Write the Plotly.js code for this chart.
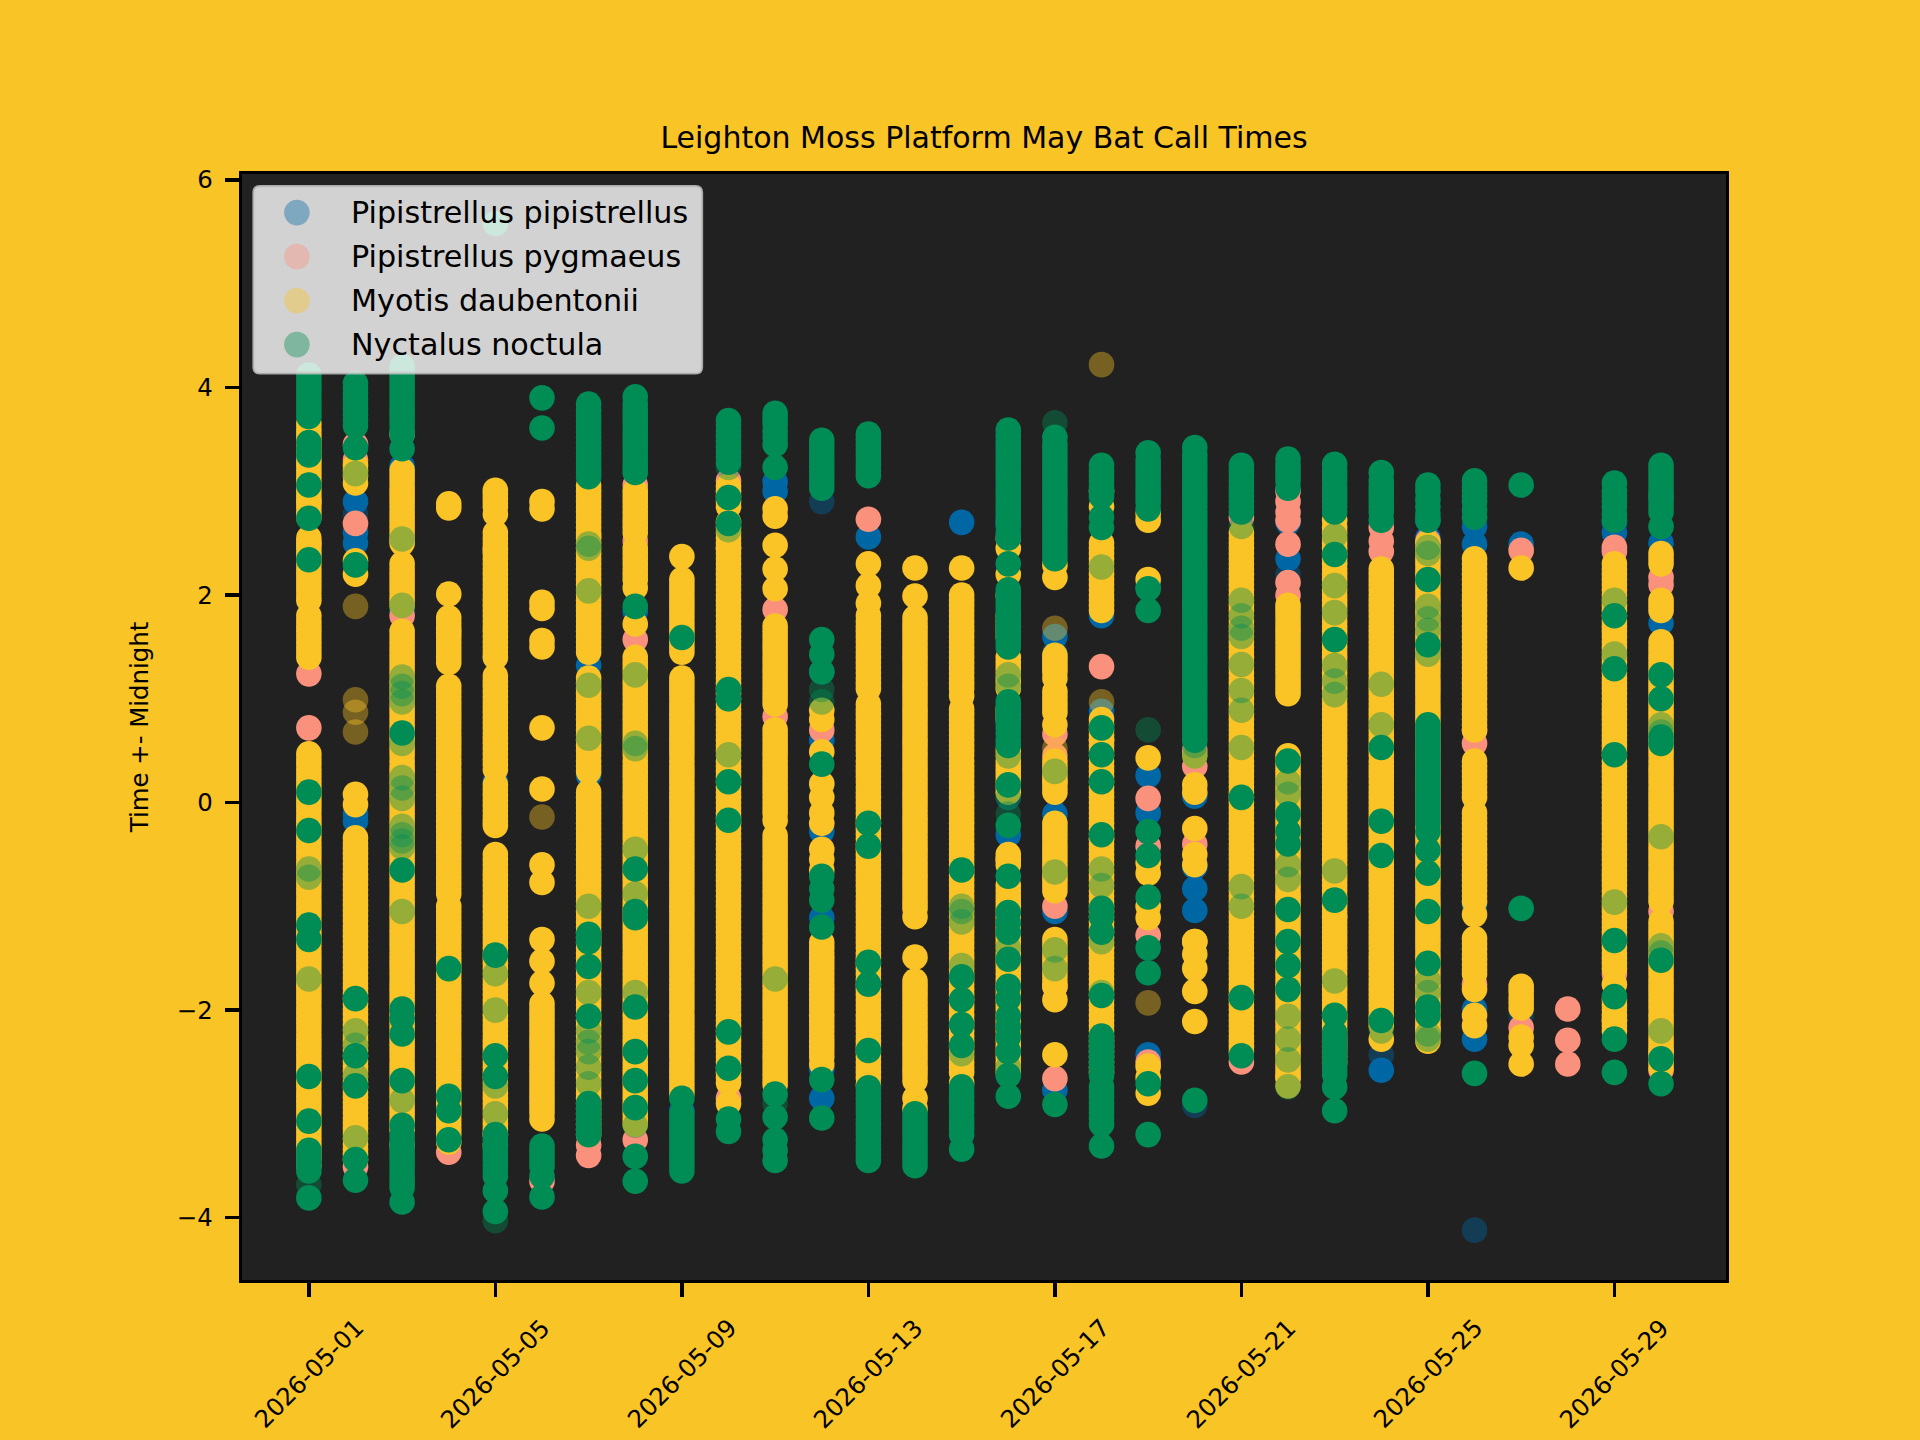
<!DOCTYPE html>
<html>
<head>
<meta charset="utf-8">
<script src="https://cdn.plot.ly/plotly-3.0.1.min.js"></script>
<style>body{margin:0;background:#f9c425}</style>
</head>
<body>
<div id="chart" style="width:1920px;height:1440px"></div>
<script>
// nights of May, one inner list per night
var nights = ['2026-05-01','2026-05-02','2026-05-03','2026-05-04','2026-05-05','2026-05-06','2026-05-07','2026-05-08','2026-05-09','2026-05-10','2026-05-11','2026-05-12','2026-05-13','2026-05-14','2026-05-15','2026-05-16','2026-05-17','2026-05-18','2026-05-19','2026-05-20','2026-05-21','2026-05-22','2026-05-23','2026-05-24','2026-05-25','2026-05-26','2026-05-27','2026-05-28','2026-05-29','2026-05-30'];
var speciesNames = ['Pipistrellus pipistrellus','Pipistrellus pygmaeus','Myotis daubentonii','Nyctalus noctula'];
var tickDates = ['2026-05-01','2026-05-05','2026-05-09','2026-05-13','2026-05-17','2026-05-21','2026-05-25','2026-05-29'];
var yTicks = [-4,-2,0,2,4,6];

// "busy" = several calls at the same minute, reads as solid
var pipBusy = [
 [3.3,2.4],[2.9,2.6,2.5,-.11,-.18],[3.24,1.85],[],[1.4,.2],[],[1.32,.26],[1.84],[-2.97],[1.8],[3.09,3],[.6,.18,-.28,-1.11,-2.57,-2.85,1.26],[2.56],[],[2.7],[2.7,-.31,1.2],[1.6,-.11,-2.77,-1.05],[1.8,.88],[2.08,.26,-.1,-2.43],[.06,-.83,-1.04,-.62],[],[2.35,2.7,.2],[2.3],[-2.58],[2.72,2.55],[2.66,2.49,-1.99,-2.28,-.98],[2.49],[],[2.6,2.7],[2.95,1.73,2.5]
];
var pipSingle = [[],[2.78],[],[],[],[],[],[],[],[],[],[2.9],[],[],[],[.05],[1.45,.95],[],[],[-2.92],[],[2.2],[],[-2.43],[],[-4.12],[-2.05],[],[],[]];
var pygBusy = [
 [1.24,.72,2.5,2.9],[3.45,3.3,2.69,-3.51],[3.55,1.8,2.53],[-3.37],[2.43,-3.2],[-3.65],[2.57,-3.4,-3.3],[3.06,2.52,1.57,-3.25],[],[3.1,2.45,-2.85],[1.86,.83],[.7],[2.73],[],[],[2.55,-.55],[.66,.45,.2,-1,-1.77,-2.66],[1.31,.6,-.35,-1.4],[.04,-.42,-1.28,-2.5],[-.4,.35,.5],[-2.5,2.75],[3,2.9,2.8,2.72,2.49,2.12,2,-.9,-2.65],[-1.1],[2.52,2.65,2.42],[2.52,-2.18],[.57,.7,-1.75],[2.43,-2.17],[-1.99,-2.29,-2.52],[2.46,2.42,-1.65,-2.1],[2.17,2.1,-1.05,-2.58,-2.4]
];
var pygSingle = [[],[],[],[],[],[],[],[],[],[],[],[],[],[],[],[],[],[],[],[],[],[],[],[],[],[],[],[],[],[]];
var daubBusy = [
 [3.65,3.6,3.55,3.5,3.45,3.4,3.35,3.3,3.25,3.2,3.15,3.1,3.05,3,2.95,2.9,2.85,2.8,2.75,2.55,2.5,2.45,2.4,2.35,2.3,2.25,2.2,2.15,2.1,2.05,2,1.95,1.8,1.75,1.7,1.65,1.6,1.55,1.5,1.45,1.4,.47,.42,.37,.32,.27,.22,.17,.12,.07,.02,-.03,-.08,-.13,-.18,-.23,-.28,-.33,-.38,-.43,-.48,-.53,-.58,-.63,-.68,-.73,-.78,-.83,-.88,-.93,-.98,-1.03,-1.08,-1.13,-1.18,-1.23,-1.28,-1.33,-1.38,-1.43,-1.48,-1.53,-1.58,-1.63,-1.68,-1.73,-1.78,-1.83,-1.88,-1.93,-1.98,-2.03,-2.08,-2.13,-2.18,-2.23,-2.28,-2.33,-2.38,-2.43,-2.48,-2.53,-2.58,-2.63,-2.68,-2.73,-2.78,-2.83,-2.88,-2.93,-2.98,-3.03,-3.08,-3.13,-3.18,-3.23,-3.28,-3.33,-3.38,-3.43,-3.5],
 [3.25,3.2,3.15,3.08,2.33,2.2,.08,-.02,-.34,-.39,-.44,-.49,-.54,-.59,-.64,-.69,-.74,-.79,-.84,-.89,-.94,-.99,-1.04,-1.09,-1.14,-1.19,-1.24,-1.29,-1.34,-1.39,-1.44,-1.49,-1.54,-1.59,-1.64,-1.69,-1.74,-1.79,-1.84,-1.89,-1.94,-1.99,-2.04,-2.09,-2.14,-2.19,-2.24,-2.29,-2.34,-2.39,-2.44,-2.49,-2.54,-2.59,-2.64,-2.69,-2.74,-2.79,-2.84,-2.89,-2.94,-2.99,-3.04,-3.09,-3.14,-3.19,-3.24,-3.29,-3.34,-3.39,-3.44],
 [3.2,3.15,3.1,3.05,3,2.95,2.9,2.85,2.8,2.75,2.7,2.65,2.6,2.55,2.5,2.3,2.25,2.2,2.15,2.1,2.05,2,1.95,1.9,1.65,1.6,1.55,1.5,1.45,1.4,1.35,1.3,1.25,1.2,1.15,1.1,1.05,1,.95,.9,.85,.8,.75,.7,.65,.6,.55,.5,.45,.4,.35,.3,.25,.2,.15,.1,.05,0,-.05,-.1,-.15,-.2,-.25,-.3,-.35,-.4,-.45,-.5,-.55,-.6,-.65,-.7,-.75,-.8,-.85,-.9,-.95,-1,-1.05,-1.1,-1.15,-1.2,-1.25,-1.3,-1.35,-1.4,-1.45,-1.5,-1.55,-1.6,-1.65,-1.7,-1.75,-1.8,-1.85,-1.9,-1.95,-2,-2.05,-2.1,-2.15,-2.2,-2.25,-2.3,-2.35,-2.4,-2.45,-2.5,-2.55,-2.6,-2.65,-2.7,-2.75,-2.8,-2.85,-2.9,-2.95,-3,-3.05,-3.1,-3.15,-3.3],
 [2.88,2.84,2.01,1.78,1.73,1.68,1.64,1.6,1.55,1.5,1.45,1.4,1.35,1.12,1.07,1.02,.97,.92,.87,.82,.77,.72,.67,.62,.57,.52,.47,.42,.37,.32,.27,.22,.17,.12,.07,.02,-.03,-.08,-.13,-.18,-.23,-.28,-.33,-.38,-.43,-.48,-.53,-.58,-.63,-.68,-.73,-.78,-.83,-.88,-1,-1.05,-1.1,-1.15,-1.2,-1.25,-1.3,-1.35,-1.4,-1.45,-1.5,-1.55,-1.6,-1.65,-1.7,-1.75,-1.8,-1.85,-1.9,-1.95,-2,-2.05,-2.1,-2.15,-2.2,-2.25,-2.3,-2.35,-2.4,-2.45,-2.5,-2.55,-2.6,-2.65,-2.7,-2.75,-2.8,-2.85,-2.9,-2.95,-3,-3.05,-3.1,-3.15,-3.2,-3.27],
 [3.01,2.97,2.93,2.89,2.85,2.78,2.6,2.55,2.5,2.45,2.4,2.35,2.3,2.25,2.2,2.15,2.1,2.05,2,1.95,1.9,1.85,1.8,1.75,1.7,1.65,1.6,1.55,1.5,1.45,1.4,1.22,1.17,1.12,1.07,1.02,.97,.92,.87,.82,.77,.72,.67,.62,.57,.52,.47,.42,.37,.32,.17,.12,.07,.02,-.03,-.08,-.13,-.18,-.22,-.5,-.55,-.6,-.65,-.7,-.75,-.8,-.85,-.9,-.95,-1,-1.05,-1.1,-1.15,-1.2,-1.25,-1.3,-1.35,-1.4,-1.45,-1.5,-1.55,-1.6,-1.65,-1.7,-1.75,-1.8,-1.85,-1.9,-1.95,-2,-2.05,-2.1,-2.15,-2.2,-2.25,-2.3,-2.35,-2.4,-2.45,-2.5,-2.55,-2.6,-2.65,-2.7,-2.75,-2.8,-2.85,-2.9,-2.95,-3,-3.05,-3.1,-3.15,-3.2,-3.3],
 [2.9,2.83,1.93,1.87,1.56,1.5,.72,.13,-.6,-.77,-1.32,-1.53,-1.74,-1.94,-1.99,-2.04,-2.09,-2.14,-2.19,-2.24,-2.29,-2.34,-2.39,-2.44,-2.49,-2.54,-2.59,-2.64,-2.69,-2.74,-2.79,-2.84,-2.89,-2.94,-2.99,-3.05],
 [3.05,3,2.95,2.9,2.85,2.8,2.75,2.7,2.65,2.6,2.55,2.5,2.45,2.4,2.35,2.3,2.25,2.2,2.15,2.1,2.05,2,1.95,1.9,1.85,1.8,1.75,1.7,1.65,1.6,1.55,1.5,1.45,1.2,1.15,1.1,1.05,1,.95,.9,.85,.8,.75,.7,.65,.6,.55,.5,.45,.4,.35,.3,.1,.05,0,-.05,-.1,-.15,-.2,-.25,-.3,-.35,-.4,-.45,-.5,-.55,-.6,-.65,-.7,-.75,-.8,-.85,-.9,-.95,-1,-1.05,-1.1,-1.15,-1.2,-1.25,-1.3,-1.35,-1.4,-1.45,-1.5,-1.55,-1.6,-1.65,-1.7,-1.75,-1.8,-1.85,-1.9,-1.95,-2,-2.05,-2.1,-2.15,-2.2,-2.25,-2.3,-2.35,-2.4,-2.45,-2.5,-2.55,-2.6,-2.65,-2.7,-2.75,-2.8,-2.85,-2.9,-2.95,-3,-3.05,-3.1,-3.15,-3.2],
 [3,2.95,2.9,2.85,2.8,2.75,2.7,2.65,2.6,2.45,2.4,2.35,2.3,2.25,2.2,2.15,2.07,1.72,1.4,1.35,1.3,1.25,1.2,1.15,1.1,1.05,1,.95,.9,.85,.8,.75,.7,.65,.6,.55,.5,.45,.4,.35,.3,.25,.2,.15,.1,.05,0,-.05,-.1,-.15,-.2,-.25,-.3,-.35,-.4,-.45,-.5,-.55,-.6,-.65,-.7,-.75,-.8,-.85,-.9,-.95,-1,-1.05,-1.1,-1.15,-1.2,-1.25,-1.3,-1.35,-1.4,-1.45,-1.5,-1.55,-1.6,-1.65,-1.7,-1.75,-1.8,-1.85,-1.9,-1.95,-2,-2.05,-2.1,-2.15,-2.2,-2.25,-2.3,-2.35,-2.4,-2.45,-2.5,-2.55,-2.6,-2.65,-2.7,-2.75,-2.8,-2.85,-2.9,-2.95,-3,-3.05,-3.1],
 [2.37,2.15,2.1,2.05,2,1.95,1.9,1.85,1.8,1.75,1.7,1.65,1.6,1.55,1.5,1.45,1.2,1.15,1.1,1.05,1,.95,.9,.85,.8,.75,.7,.65,.6,.55,.5,.45,.4,.35,.3,.25,.2,.15,.1,.05,0,-.05,-.1,-.15,-.2,-.25,-.3,-.35,-.4,-.45,-.5,-.55,-.6,-.65,-.7,-.75,-.8,-.85,-.9,-.95,-1,-1.05,-1.1,-1.15,-1.2,-1.25,-1.3,-1.35,-1.4,-1.45,-1.5,-1.55,-1.6,-1.65,-1.7,-1.75,-1.8,-1.85,-1.9,-1.95,-2,-2.05,-2.1,-2.15,-2.2,-2.25,-2.3,-2.35,-2.4,-2.45,-2.5,-2.55,-2.6,-2.65,-2.7,-2.75,-2.8],
 [3.05,3,2.95,2.9,2.85,2.7,2.65,2.6,2.55,2.5,2.45,2.4,2.35,2.3,2.25,2.2,2.15,2.1,2.05,2,1.95,1.9,1.85,1.8,1.75,1.7,1.65,1.6,1.55,1.5,1.45,1.4,1.35,1.3,1.25,1.2,1.15,1.1,1.05,1,.95,.9,.85,.8,.75,.7,.65,.6,.55,.5,.45,.4,.35,.3,.25,.2,.15,.1,.05,0,-.05,-.1,-.15,-.2,-.25,-.3,-.35,-.4,-.45,-.5,-.55,-.6,-.65,-.7,-.75,-.8,-.85,-.9,-.95,-1,-1.05,-1.1,-1.15,-1.2,-1.25,-1.3,-1.35,-1.4,-1.45,-1.5,-1.55,-1.6,-1.65,-1.7,-1.75,-1.8,-1.85,-1.9,-1.95,-2,-2.05,-2.1,-2.15,-2.2,-2.25,-2.3,-2.35,-2.4,-2.45,-2.5,-2.55,-2.6,-2.65,-2.7,-2.9],
 [2.83,2.76,2.48,2.25,2.06,1.7,1.65,1.6,1.55,1.5,1.45,1.4,1.35,1.3,1.25,1.2,1.15,1.1,1.05,1,.95,.7,.65,.6,.55,.5,.45,.4,.35,.3,.25,.2,.15,.1,.05,0,-.05,-.1,-.17,-.32,-.37,-.42,-.47,-.52,-.57,-.62,-.67,-.72,-.77,-.82,-.87,-.92,-.97,-1.02,-1.07,-1.12,-1.17,-1.22,-1.27,-1.32,-1.37,-1.42,-1.47,-1.52,-1.57,-1.62,-1.67,-1.72,-1.77,-1.82,-1.87,-1.92,-1.97,-2.02,-2.07,-2.12,-2.17,-2.22,-2.27,-2.32,-2.37,-2.42,-2.47,-2.52,-2.57,-2.62,-2.67,-2.72],
 [.89,.8,.49,.18,.05,-.1,-.2,-.45,-.55,-.65,-1.35,-1.4,-1.45,-1.5,-1.55,-1.6,-1.65,-1.7,-1.75,-1.8,-1.85,-1.9,-1.95,-2,-2.05,-2.1,-2.15,-2.2,-2.25,-2.3,-2.35,-2.4,-2.45,-2.52],
 [2.3,2.09,1.92,1.8,1.75,1.7,1.65,1.6,1.55,1.5,1.45,1.4,1.35,1.3,1.25,1.2,1.15,1.1,.95,.9,.85,.8,.75,.7,.65,.6,.55,.5,.45,.4,.35,.3,.25,.2,.15,.1,.05,0,-.05,-.1,-.15,-.2,-.25,-.3,-.35,-.4,-.45,-.5,-.55,-.6,-.65,-.7,-.75,-.8,-.85,-.9,-.95,-1,-1.05,-1.1,-1.15,-1.2,-1.25,-1.3,-1.35,-1.4,-1.45,-1.5,-1.55,-1.6,-1.65,-1.7,-1.75,-1.8,-1.85,-1.9,-1.95,-2,-2.05,-2.1,-2.15,-2.2,-2.25,-2.3,-2.35,-2.4,-2.45,-2.5,-2.55,-2.6,-2.65,-2.72],
 [2.26,1.99,1.78,1.73,1.68,1.63,1.58,1.53,1.48,1.43,1.38,1.33,1.28,1.23,1.18,1.13,1.08,1.03,.98,.93,.88,.83,.78,.73,.68,.63,.58,.53,.48,.43,.38,.33,.28,.23,.18,.13,.08,.03,-.02,-.07,-.12,-.17,-.22,-.27,-.32,-.37,-.42,-.47,-.52,-.57,-.62,-.67,-.72,-.77,-.82,-.87,-.92,-.97,-1.02,-1.1,-1.49,-1.72,-1.77,-1.82,-1.87,-1.92,-1.97,-2.02,-2.07,-2.12,-2.17,-2.22,-2.27,-2.32,-2.37,-2.42,-2.47,-2.52,-2.57,-2.62,-2.68,-2.85,-2.95],
 [2.26,2,1.95,1.9,1.85,1.8,1.75,1.7,1.65,1.6,1.55,1.5,1.45,1.4,1.35,1.3,1.25,1.2,1.15,1.1,1.03,.9,.85,.8,.75,.7,.65,.6,.55,.5,.45,.4,.35,.3,.25,.2,.15,.1,.05,0,-.05,-.1,-.15,-.2,-.25,-.3,-.35,-.4,-.45,-.5,-.55,-.6,-.65,-.7,-.75,-.8,-.85,-.9,-.95,-1,-1.05,-1.1,-1.15,-1.2,-1.25,-1.3,-1.35,-1.4,-1.45,-1.5,-1.55,-1.6,-1.65,-1.7,-1.75,-1.8,-1.85,-1.9,-1.95,-2,-2.05,-2.1,-2.15,-2.2,-2.25,-2.3,-2.35,-2.4,-2.45,-2.5,-2.55,-2.6,-2.7],
 [2.45,2.2,2,1.8,1.75,1.7,1.65,1.6,1.4,1.35,1.3,1.25,1.2,1.15,1.1,.9,.85,.8,.5,.45,.4,.35,.3,.25,.2,.15,.1,-.5,-.55,-.6,-.8,-.85,-.9,-.95,-1,-1.05,-1.1,-1.15,-1.2,-1.25,-1.3,-1.35,-1.4,-1.45,-1.5,-1.55,-1.6,-1.65,-1.7,-1.75,-1.8,-1.85,-1.9,-1.95,-2,-2.05,-2.1,-2.15,-2.2,-2.25,-2.3,-2.35,-2.4,-2.45,-2.5,-2.55,-2.6],
 [2.29,2.17,1.42,1.38,1.34,1.3,1.26,1.2,1.07,1.02,.97,.92,.87,.75,.4,.35,.3,.25,.2,.15,.1,-.2,-.25,-.3,-.35,-.4,-.45,-.5,-.55,-.6,-.65,-.7,-.75,-.8,-.85,-1.32,-1.37,-1.42,-1.47,-1.52,-1.57,-1.62,-1.67,-1.72,-1.77,-1.9,-2.43],
 [3,2.85,2.5,2.45,2.4,2.35,2.3,2.25,2.2,2.15,2.1,2.05,2,1.95,1.9,1.85,.8,.75,.7,.65,.6,.55,.5,.45,.4,.35,.3,.25,.2,.15,.1,.05,0,-.05,-.1,-.15,-.2,-.25,-.3,-.35,-.4,-.45,-.5,-.55,-.6,-.65,-.7,-.75,-.8,-.85,-.9,-.95,-1,-1.05,-1.1,-1.15,-1.2,-1.25,-1.3,-1.35,-1.4,-1.45,-1.5,-1.55,-1.6,-1.65,-1.7,-1.75,-1.8,-1.85,-1.9,-1.95,-2,-2.05,-2.1,-2.15,-2.2,-2.25,-2.3,-2.35,-2.4,-2.45,-2.5,-2.55,-2.6],
 [2.78,2.72,2.15,.43,-.68,-.58,-1.11,-1,-2.54,-2.65,-2.8],
 [.45,.17,.1,-.25,-.6,-.5,-1.34,-1.46,-1.6,-1.34,-1.82,-2.11],
 [2.6,2.55,2.5,2.45,2.4,2.35,2.3,2.25,2.2,2.15,2.1,2.05,2,1.95,1.9,1.85,1.8,1.75,1.7,1.65,1.6,1.55,1.5,1.45,1.4,1.35,1.3,1.25,1.2,1.15,1.1,1.05,1,.95,.9,.85,.8,.75,.7,.65,.6,.55,.5,.45,.4,.35,.3,.25,.2,.15,.1,.05,0,-.05,-.1,-.15,-.2,-.25,-.3,-.35,-.4,-.45,-.5,-.55,-.6,-.65,-.7,-.75,-.8,-.85,-.9,-.95,-1,-1.05,-1.1,-1.15,-1.2,-1.25,-1.3,-1.35,-1.4,-1.45,-1.5,-1.55,-1.6,-1.65,-1.7,-1.75,-1.8,-1.85,-1.9,-1.95,-2,-2.05,-2.1,-2.15,-2.2,-2.25,-2.3,-2.35,-2.4],
 [1.9,1.85,1.8,1.75,1.7,1.65,1.6,1.55,1.5,1.45,1.4,1.35,1.3,1.25,1.2,1.15,1.1,1.05,.45,.4,.35,.3,.25,.2,.15,.1,.05,0,-.05,-.1,-.15,-.2,-.25,-.3,-.35,-.4,-.45,-.5,-.55,-.6,-.65,-.7,-.75,-.8,-.85,-.9,-.95,-1,-1.05,-1.1,-1.15,-1.2,-1.25,-1.3,-1.35,-1.4,-1.45,-1.5,-1.55,-1.6,-1.65,-1.7,-1.75,-1.8,-1.85,-1.9,-1.95,-2,-2.05,-2.1,-2.15,-2.2,-2.25,-2.3,-2.35,-2.4,-2.45,-2.5,-2.55,-2.6,-2.65,-2.73],
 [2.72,2.65,2.6,2.55,2.5,2.45,2.4,2.35,2.3,2.25,2.2,2.15,2.1,2.05,2,1.95,1.9,1.85,1.8,1.75,1.7,1.65,1.6,1.55,1.5,1.45,1.4,1.35,1.3,1.25,1.2,1.15,1.1,1.05,1,.95,.9,.85,.8,.75,.7,.65,.6,.55,.5,.45,.4,.35,.3,.25,.2,.15,.1,.05,0,-.05,-.1,-.15,-.2,-.25,-.3,-.35,-.4,-.45,-.5,-.55,-.6,-.65,-.7,-.75,-.8,-.85,-.9,-.95,-1,-1.05,-1.1,-1.15,-1.2,-1.25,-1.3,-1.35,-1.4,-1.45,-1.5,-1.55,-1.6,-1.65,-1.7,-1.75,-1.8,-1.85,-1.9,-1.95,-2,-2.05,-2.1,-2.15,-2.2,-2.25,-2.3,-2.35,-2.4,-2.45,-2.5],
 [2.25,2.2,2.15,2.1,2.05,2,1.95,1.9,1.85,1.8,1.75,1.7,1.65,1.6,1.55,1.5,1.45,1.4,1.35,1.3,1.25,1.2,1.15,1.1,1.05,1,.95,.9,.85,.8,.75,.7,.65,.6,.55,.5,.45,.4,.35,.3,.25,.2,.15,.1,.05,0,-.05,-.1,-.15,-.2,-.25,-.3,-.35,-.4,-.45,-.5,-.55,-.6,-.65,-.7,-.75,-.8,-.85,-.9,-.95,-1,-1.05,-1.1,-1.15,-1.2,-1.25,-1.3,-1.35,-1.4,-1.45,-1.5,-1.55,-1.6,-1.65,-1.7,-1.75,-1.8,-1.85,-1.9,-1.95,-2,-2.05,-2.1,-2.15,-2.28],
 [2.5,2.45,2.4,2.35,2.3,2.25,2.2,2.15,2.1,2.05,2,1.95,1.9,1.85,1.8,1.75,1.7,1.65,1.6,1.55,1.5,1.45,1.4,1.35,1.3,1.25,1.2,1.15,1.1,1.05,1,.95,.9,.85,.8,.75,.7,.65,.6,.55,.5,.45,.4,.35,.3,.25,.2,.15,.1,.05,0,-.05,-.1,-.15,-.2,-.25,-.3,-.35,-.4,-.45,-.5,-.55,-.6,-.65,-.7,-.75,-.8,-.85,-.9,-.95,-1,-1.05,-1.1,-1.15,-1.2,-1.25,-1.3,-1.35,-1.4,-1.45,-1.5,-1.55,-1.6,-1.65,-1.7,-1.75,-1.8,-1.85,-1.9,-1.95,-2,-2.05,-2.1,-2.15,-2.2,-2.25,-2.3],
 [2.35,2.3,2.25,2.2,2.15,2.1,2.05,2,1.95,1.9,1.85,1.8,1.75,1.7,1.65,1.6,1.55,1.5,1.45,1.4,1.35,1.3,1.25,1.2,1.15,1.1,1.05,1,.95,.9,.85,.8,.75,.7,.4,.35,.3,.25,.2,.15,.1,.05,-.1,-.15,-.2,-.25,-.3,-.35,-.4,-.45,-.5,-.55,-.6,-.65,-.7,-.75,-.8,-.85,-.9,-.95,-1.08,-1.31,-1.36,-1.41,-1.46,-1.51,-1.56,-1.61,-1.65,-1.8,-2.05,-2.15],
 [2.26,-1.77,-1.82,-1.88,-1.93,-1.98,-2.26,-2.34,-2.52],
 [],
 [2.3,2.25,2.2,2.15,2.1,2.05,2,1.95,1.9,1.85,1.8,1.75,1.7,1.65,1.6,1.55,1.5,1.45,1.4,1.35,1.3,1.25,1.2,1.15,1.1,1.05,1,.95,.9,.85,.8,.75,.7,.65,.6,.55,.5,.45,.4,.35,.3,.25,.2,.15,.1,.05,0,-.05,-.1,-.15,-.2,-.25,-.3,-.35,-.4,-.45,-.5,-.55,-.6,-.65,-.7,-.75,-.8,-.85,-.9,-.95,-1,-1.05,-1.1,-1.15,-1.2,-1.25,-1.3,-1.35,-1.4,-1.45,-1.5,-1.55,-1.6,-1.75,-1.9,-1.95,-2,-2.05,-2.1,-2.15,-2.2],
 [2.4,2.35,2.3,1.95,1.9,1.85,1.55,1.5,1.45,1.4,1.35,1.3,1.25,1.2,1.15,1.1,1.05,1,.95,.9,.85,.8,.75,.7,.65,.6,.55,.5,.45,.4,.35,.3,.25,.2,.15,.1,.05,0,-.05,-.1,-.15,-.2,-.25,-.3,-.35,-.4,-.45,-.5,-.55,-.6,-.65,-.7,-.75,-.8,-.85,-.9,-.95,-1.15,-1.2,-1.25,-1.3,-1.35,-1.4,-1.45,-1.5,-1.55,-1.6,-1.65,-1.7,-1.75,-1.8,-1.85,-1.9,-1.95,-2,-2.05,-2.1,-2.15,-2.2,-2.25,-2.3,-2.35,-2.4,-2.45,-2.5,-2.55]
];
var daubSingle = [[],[1.89,.99,.87,.68],[],[],[],[-.14],[],[],[],[],[],[],[],[],[],[],[1.68,.52],[4.22,.97],[-1.93],[],[],[],[],[],[],[],[],[],[],[]];
var noctBusy = [
 [4.12,4.07,4.02,3.97,3.92,3.87,3.82,3.77,3.72,3.47,3.41,3.35,3.06,2.74,2.34,.1,-.27,-1.18,-1.32,-2.64,-3.07,-3.35,-3.4,-3.45,-3.5,-3.55,-3.81],
 [4.04,3.99,3.94,3.89,3.84,3.79,3.74,3.68,3.63,3.42,2.29,-1.89,-2.44,-2.73,-3.44,-3.64],
 [4.2,4.15,4.1,4.05,4,3.95,3.9,3.85,3.8,3.75,3.7,3.65,3.6,3.55,3.41,.67,-.65,-1.99,-2.08,-2.23,-2.68,-3.11,-3.21,-3.26,-3.31,-3.36,-3.41,-3.46,-3.51,-3.56,-3.61,-3.66,-3.71,-3.85],
 [-1.6,-2.83,-2.97,-3.25],
 [5.58,-1.47,-2.44,-2.64,-3.2,-3.25,-3.3,-3.35,-3.4,-3.45,-3.5,-3.55,-3.6,-3.74,-3.94],
 [3.9,3.61,-3.31,-3.36,-3.41,-3.46,-3.51,-3.6,-3.8],
 [3.84,3.78,3.72,3.67,3.62,3.57,3.52,3.47,3.42,3.37,3.32,3.27,3.22,3.18,3.14,-1.27,-1.34,-1.58,-2.06,-2.9,-2.95,-3,-3.05,-3.1,-3.15,-3.2],
 [3.91,3.84,3.78,3.73,3.68,3.63,3.58,3.53,3.48,3.43,3.38,3.33,3.28,3.23,3.18,1.89,-.64,-1.05,-1.11,-1.97,-2.4,-2.68,-2.94,-3.41,-3.65],
 [1.59,-2.85,-3,-3.05,-3.1,-3.15,-3.2,-3.25,-3.3,-3.35,-3.4,-3.45,-3.5,-3.55],
 [3.68,3.63,3.58,3.53,3.48,3.43,3.38,3.33,3.28,2.94,2.69,1.09,1,.2,-.17,-2.21,-2.56,-3.05,-3.17],
 [3.75,3.7,3.65,3.58,3.52,3.45,3.23,-2.81,-3.03,-3.25,-3.35,-3.45],
 [3.49,3.44,3.39,3.34,3.29,3.24,3.19,3.14,3.09,3.03,1.57,1.43,1.26,.37,-.71,-.83,-.94,-1.2,-2.67,-3.04],
 [3.55,3.5,3.45,3.4,3.35,3.3,3.25,3.2,3.15,-.2,-.42,-1.54,-1.75,-2.39,-2.75,-2.8,-2.85,-2.9,-2.95,-3,-3.05,-3.1,-3.15,-3.2,-3.25,-3.3,-3.35,-3.4,-3.45],
 [-3,-3.05,-3.1,-3.15,-3.2,-3.25,-3.3,-3.35,-3.4,-3.45,-3.5],
 [-.65,-1.68,-1.9,-2.14,-2.34,-2.74,-2.79,-2.84,-2.89,-2.94,-2.99,-3.04,-3.09,-3.14,-3.2,-3.34],
 [3.59,3.53,3.47,3.42,3.37,3.32,3.27,3.22,3.17,3.12,3.07,3.02,2.97,2.92,2.87,2.82,2.77,2.72,2.67,2.6,2.55,2.3,2.05,2,1.95,1.9,1.85,1.8,1.75,1.7,1.65,1.6,1.55,1.5,.97,.92,.87,.82,.77,.72,.67,.6,.55,.17,-.22,-.71,-1.06,-1.16,-1.25,-1.51,-1.77,-1.89,-2.06,-2.16,-2.26,-2.4,-2.63,-2.83],
 [3.52,3.45,3.4,3.35,3.3,3.25,3.2,3.15,3.1,3.05,3,2.95,2.9,2.85,2.8,2.75,2.7,2.65,2.6,2.55,2.5,2.45,2.4,2.35,-2.91],
 [3.25,3.2,3.15,3.1,3.05,3,2.95,2.75,2.65,.72,.46,.2,-.31,-1.02,-1.1,-1.25,-1.86,-2.25,-2.3,-2.35,-2.4,-2.45,-2.5,-2.55,-2.63,-2.74,-2.79,-2.84,-2.89,-2.94,-2.99,-3.04,-3.1,-3.31],
 [3.37,3.3,3.25,3.2,3.15,3.1,3.05,3,2.95,2.9,2.83,2.06,1.85,-.28,-.51,-.91,-1.4,-1.64,-2.71,-3.2],
 [3.42,3.35,3.3,3.25,3.2,3.15,3.1,3.05,3,2.95,2.9,2.85,2.8,2.75,2.7,2.65,2.6,2.55,2.5,2.45,2.4,2.35,2.3,2.25,2.2,2.15,2.1,2.05,2,1.95,1.9,1.85,1.8,1.75,1.7,1.65,1.6,1.55,1.5,1.45,1.4,1.35,1.3,1.25,1.2,1.15,1.1,1.05,1,.95,.9,.85,.8,.75,.7,.65,.6,-2.87],
 [3.25,3.2,3.15,3.1,3.05,3,2.95,2.9,2.85,2.8,.05,-1.88,-2.44],
 [3.31,3.25,3.2,3.15,3.1,3.03,.4,-.11,-.28,-.4,-1.03,-1.34,-1.57,-1.8],
 [3.26,3.2,3.15,3.1,3.05,3,2.95,2.9,2.85,2.8,2.39,1.57,-.94,-2.05,-2.22,-2.27,-2.32,-2.37,-2.42,-2.47,-2.52,-2.57,-2.62,-2.74,-2.97],
 [3.18,3.1,3.05,3,2.95,2.9,2.85,2.8,2.72,.53,-.18,-.51,-2.1],
 [3.06,3,2.92,2.85,2.78,2.72,2.15,1.52,.75,.7,.65,.6,.55,.5,.45,.4,.35,.3,.25,.2,.15,.1,.05,0,-.05,-.1,-.15,-.2,-.28,-.46,-.68,-1.05,-1.55,-1.97,-2.05],
 [3.1,3.05,3,2.95,2.9,2.82,2.75,-2.61],
 [3.06,-1.02],
 [],
 [3.08,3,2.95,2.9,2.85,2.78,2.72,1.8,1.29,.46,-1.33,-1.87,-2.28,-2.6],
 [3.25,3.2,3.15,3.1,3.05,3,2.95,2.9,2.85,2.8,2.66,1.23,1,.63,.57,-1.52,-2.47,-2.71]
];
var noctSingle = [
 [-.64,-.72,-1.7,-3.68],[3.17,-2.2,-2.34,-2.63,-3.23],[2.54,1.9,1.21,1.12,1.05,.97,.57,.24,.14,.04,-.23,-.31,-.37,-.43,-1.05,-2.87],[],[-1.65,-2,-2.73,-3,-4.03],[],[2.49,2.45,2.04,1.13,.62,-1,-1.83,-2.2,-2.31,-2.4,-2.55,-2.71],[1.23,.57,.52,-.45,-.88,-1.83,-3.11],[],[3.23,2.63,1,.46],[-1.7,-2.9],[1.09,.97],[],[],[-1,-1.05,-1.15,-1.57,-2.42],[1.23,1.12,.45,.05,-.11,-1.4,-2.55],[3.66,.3,-.67,-1.42,-1.6],[2.27,-.64,-.8,-1.34,-1.83],[.7],[.55,.45],[2.66,1.95,1.8,1.68,1.6,1.33,1.08,.89,.53,-.81,-1],[.2,.08,-.6,-.74,-2.06,-2.28,-2.48,-2.74],[2.57,2.09,1.83,1.32,1.17,1.04,-.66,-1.72],[1.14,.75,-2.2],[2.46,2.4,1.89,1.77,1.66,1.43,-1.71,-1.83,-2.23,-2.28],[],[],[],[1.95,1.43,-.96],[.75,.68,-.33,-1.45,-1.38,-2.2]
];

var busyLists = [pipBusy, pygBusy, daubBusy, noctBusy];
var singleLists = [pipSingle, pygSingle, daubSingle, noctSingle];
var colors = ['#0067a5','#fa917c','#fac326','#008c55'];

function flatten(days) {
    var x = [], y = [];
    days.forEach(function (vals, i) {
        vals.forEach(function (v) { x.push(nights[i]); y.push(v); });
    });
    return {x: x, y: y};
}

var data = [];
speciesNames.forEach(function (name, s) {
    var busy = flatten(busyLists[s]);
    var single = flatten(singleLists[s]);
    data.push({type: 'scatter', mode: 'markers', name: name, x: busy.x, y: busy.y,
        marker: {color: colors[s], size: 25.6, line: {width: 0}}, showlegend: false, hoverinfo: 'skip'});
    data.push({type: 'scatter', mode: 'markers', name: name, x: single.x, y: single.y,
        marker: {color: colors[s], size: 25.6, opacity: 0.4, line: {width: 0}}, showlegend: false, hoverinfo: 'skip'});
});

// inner edge of the axes box in page pixels (the spine is drawn outside it)
var L = 241.6, R = 1726.4, T = 174.4, B = 1280.4;
function px(v) { return (v - L) / (R - L); }
function py(v) { return (B - v) / (B - T); }

var font = 'DejaVu Sans, sans-serif';
var shapes = [], annotations = [];

// legend box over the points
var bx0 = px(253.5), bx1 = px(701.5), by0 = py(187), by1 = py(373.5), rx = 6 / (R - L), ry = 6 / (B - T);
shapes.push({type: 'path', xref: 'paper', yref: 'paper', layer: 'above',
    path: 'M' + (bx0 + rx) + ',' + by0 + ' L' + (bx1 - rx) + ',' + by0 + ' Q' + bx1 + ',' + by0 + ' ' + bx1 + ',' + (by0 - ry) +
        ' L' + bx1 + ',' + (by1 + ry) + ' Q' + bx1 + ',' + by1 + ' ' + (bx1 - rx) + ',' + by1 +
        ' L' + (bx0 + rx) + ',' + by1 + ' Q' + bx0 + ',' + by1 + ' ' + bx0 + ',' + (by1 + ry) +
        ' L' + bx0 + ',' + (by0 - ry) + ' Q' + bx0 + ',' + by0 + ' ' + (bx0 + rx) + ',' + by0 + ' Z',
    fillcolor: 'rgba(255,255,255,0.8)', line: {color: 'rgba(204,204,204,0.8)', width: 3}});
speciesNames.forEach(function (name, s) {
    var cy = 213 + s * 44;
    shapes.push({type: 'circle', xref: 'paper', yref: 'paper', layer: 'above',
        x0: px(296.5 - 12.8), x1: px(296.5 + 12.8), y0: py(cy + 12.8), y1: py(cy - 12.8),
        fillcolor: colors[s], opacity: 0.4, line: {width: 0}});
    annotations.push({xref: 'paper', yref: 'paper', x: px(349), y: py(cy), xanchor: 'left', yanchor: 'middle',
        text: name, showarrow: false, font: {family: font, size: 30.2, color: '#000'}});
});

// date labels sit centred under the tick, rotated
tickDates.forEach(function (d) {
    annotations.push({xref: 'x', yref: 'paper', x: d, y: 0, xanchor: 'center', yanchor: 'top', yshift: -30,
        text: d, textangle: -45, showarrow: false, font: {family: font, size: 24.4, color: '#000'}});
});

var layout = {
    width: 1920, height: 1440,
    margin: {l: L, r: 1920 - R, t: T, b: 1440 - B, autoexpand: false},
    paper_bgcolor: '#f9c425', plot_bgcolor: '#212121',
    showlegend: false,
    title: {text: 'Leighton Moss Platform May Bat Call Times', x: 984 / 1920, xanchor: 'center', y: 1 - 137 / 1440, yanchor: 'middle',
        font: {family: font, size: 30, color: '#000'}},
    xaxis: {type: 'date', range: ['2026-04-29 13:35', '2026-05-31 09:26'], tickmode: 'array', tickvals: tickDates, ticktext: tickDates,
        showticklabels: false, ticks: 'outside', ticklen: 14, tickwidth: 3.3, tickcolor: '#000',
        showline: true, mirror: true, linecolor: '#000', linewidth: 3.3, showgrid: false, zeroline: false},
    yaxis: {range: [-4.601, 6.057], tickmode: 'array', tickvals: yTicks,
        ticks: 'outside', ticklen: 14, tickwidth: 3.3, tickcolor: '#000',
        ticklabelstandoff: 7,
        tickfont: {family: font, size: 24.4, color: '#000'},
        showline: true, mirror: true, linecolor: '#000', linewidth: 3.3, showgrid: false, zeroline: false,
        title: {text: 'Time +- Midnight', standoff: 22, font: {family: font, size: 24.4, color: '#000'}}},
    shapes: shapes,
    annotations: annotations
};

Plotly.newPlot('chart', data, layout, {displayModeBar: false, staticPlot: true});
</script>
</body>
</html>
